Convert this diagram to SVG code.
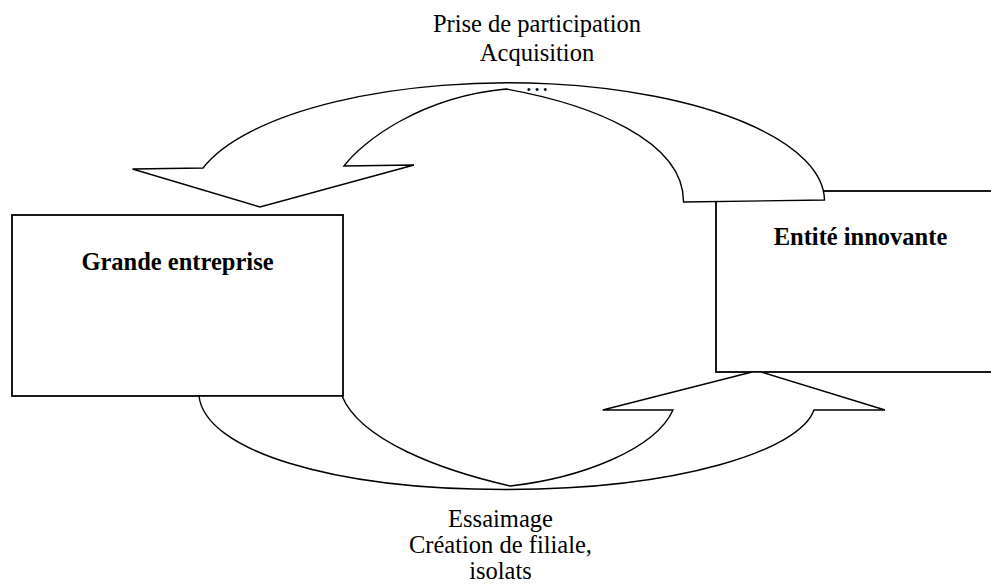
<svg xmlns="http://www.w3.org/2000/svg" width="991" height="585" viewBox="0 0 991 585">
  <style>
    .box { fill: #ffffff; stroke: #000000; stroke-width: 1.8; }
    .arrow { fill: #ffffff; stroke: #000000; stroke-width: 1.4; stroke-linejoin: miter; }
    .title { font-family: "Liberation Serif", "Times New Roman", serif; font-size: 24.5px; font-weight: bold; fill: #000000; text-anchor: middle; }
    .label { font-family: "Liberation Serif", "Times New Roman", serif; font-size: 24.5px; fill: #000000; text-anchor: middle; }
  </style>
  <rect width="991" height="585" fill="#ffffff"/>
  <g id="grande-entreprise">
    <rect class="box" x="12" y="215" width="331" height="181"/>
    <text class="title" x="177.5" y="270">Grande entreprise</text>
  </g>
  <g id="entite-innovante">
    <rect class="box" x="716" y="191" width="290" height="181"/>
    <text class="title" x="860.5" y="245">Entité innovante</text>
  </g>
  <g id="connectors">
    <path id="arrow-acquisition" class="arrow" d="M 824.5,200 A 317 118 0 0 0 203,168 L 132.5,169 L 260,207 L 414,165 L 344,166 C 362,142 420,97 506,89 C 590,104 684,140 683.5,202 Z"/>
    <path id="arrow-essaimage" class="arrow" d="M 199,396 C 205,450 330,489.5 505,489.5 C 680,489.5 800,450 814,410 L 885,410 L 761,372 L 752,372 L 602.7,410 L 673,410 C 655,450 580,478 510.4,486 C 440,470 360,440 342,396 Z"/>
    <g id="label-acquisition">
      <text class="label" x="537" y="31.5">Prise de participation</text>
      <text class="label" x="537" y="60.5">Acquisition</text>
      <text class="label" x="537" y="91">…</text>
    </g>
    <g id="label-essaimage">
      <text class="label" x="500.5" y="526.5">Essaimage</text>
      <text class="label" x="500.5" y="552.5">Création de filiale,</text>
      <text class="label" x="500.5" y="578.5">isolats</text>
    </g>
  </g>
</svg>
